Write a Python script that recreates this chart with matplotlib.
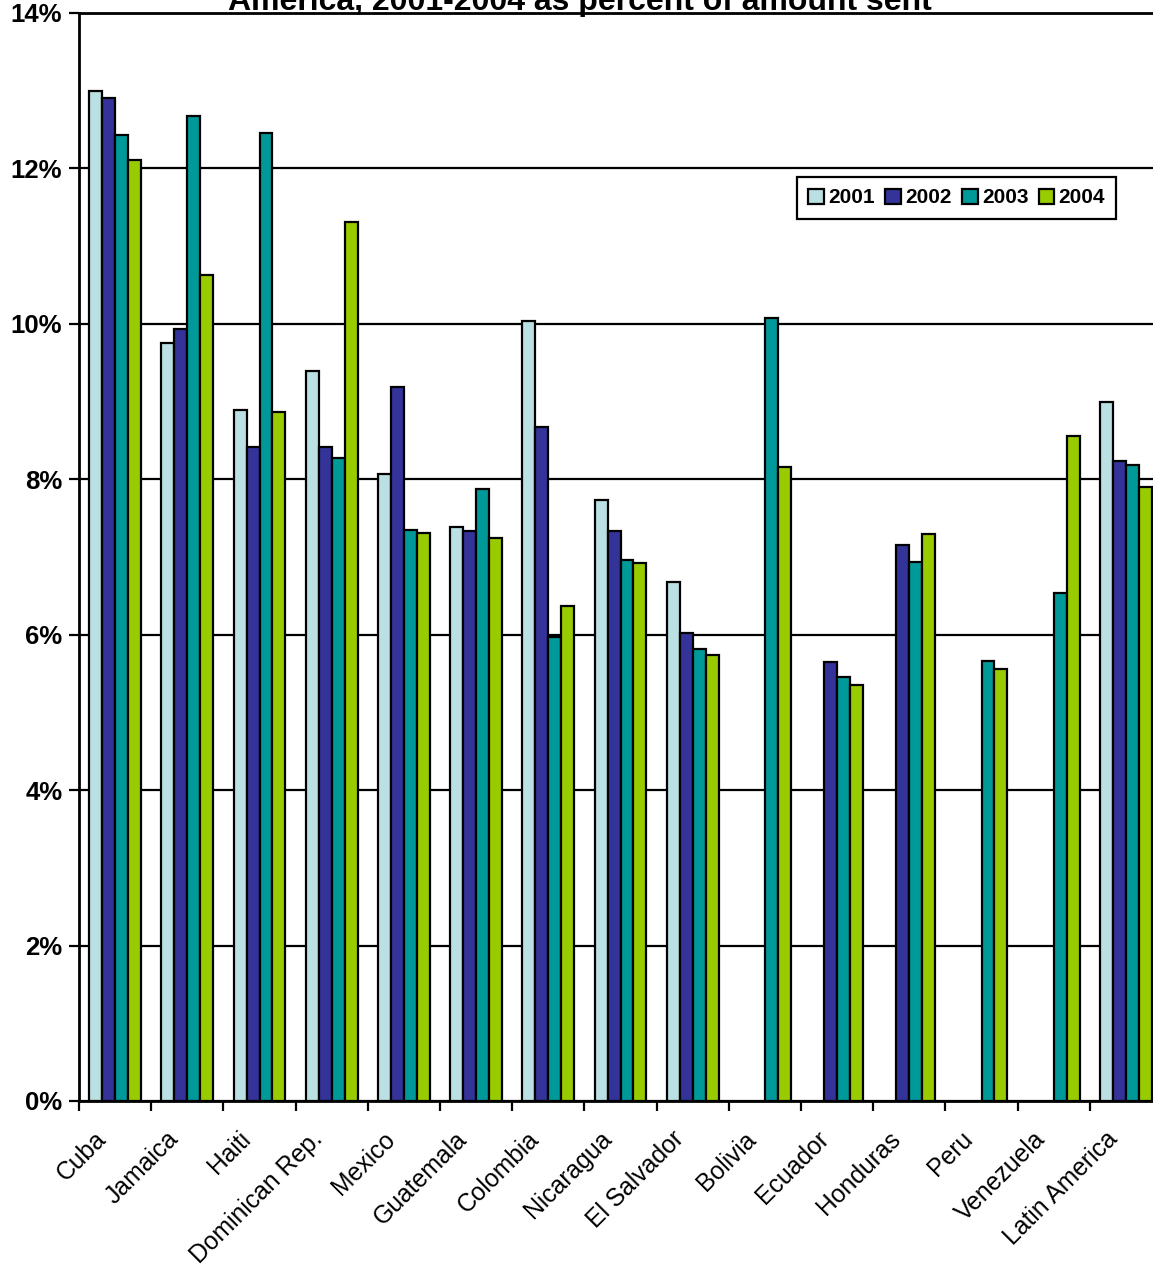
import numpy as np
import matplotlib
matplotlib.use("Agg")
import matplotlib.pyplot as plt
import matplotlib.transforms as mtransforms
from matplotlib.ticker import FixedLocator, FuncFormatter

plt.rcParams['font.family'] = ['Liberation Sans', 'DejaVu Sans']

categories = ["Cuba", "Jamaica", "Haiti", "Dominican Rep.", "Mexico", "Guatemala",
              "Colombia", "Nicaragua", "El Salvador", "Bolivia", "Ecuador",
              "Honduras", "Peru", "Venezuela", "Latin America"]
years = ["2001", "2002", "2003", "2004"]
nan = np.nan
v2001 = [13.00, 9.75, 8.89, 9.39, 8.07, 7.38, 10.04, 7.73, 6.68, nan, nan, nan, nan, nan, 8.99]
v2002 = [12.91, 9.94, 8.42, 8.42, 9.19, 7.34, 8.67, 7.34, 6.02, nan, 5.65, 7.16, nan, nan, 8.24]
v2003 = [12.43, 12.67, 12.45, 8.28, 7.35, 7.87, 5.97, 6.96, 5.82, 10.07, 5.45, 6.93, 5.66, 6.54, 8.18]
v2004 = [12.11, 10.63, 8.87, 11.31, 7.31, 7.25, 6.37, 6.92, 5.74, 8.16, 5.35, 7.29, 5.56, 8.56, 7.90]
series = [v2001, v2002, v2003, v2004]
colors = ["#BBE0E3", "#333399", "#009999", "#99CC00"]
yticks = [0, 2, 4, 6, 8, 10, 12, 14]
title = "America, 2001-2004 as percent of amount sent"

W, H = 1153, 1268
fig = plt.figure(figsize=(W / 100, H / 100), dpi=100)
ax = fig.add_axes([79 / W, 1 - 1101 / H, (1162 - 79) / W, (1101 - 13) / H])

x = np.arange(len(categories))
bw = 0.18
for i, (vals, c, yr) in enumerate(zip(series, colors, years)):
    ax.bar(x + (i - 1.5) * bw, vals, width=bw, color=c, edgecolor="black",
           linewidth=1.6, label=yr, zorder=3)

ax.set_xlim(-0.5, len(categories) - 0.5)
ax.set_ylim(0, 14)
ax.yaxis.set_major_locator(FixedLocator(yticks))
ax.yaxis.set_major_formatter(FuncFormatter(lambda v, p: f"{int(round(v))}%"))
ax.grid(axis="y", color="black", linewidth=1.6, zorder=0)
ax.set_axisbelow(True)

# category labels (rotated), placed relative to each category centre
ax.set_xticks(x)
ax.set_xticklabels([])
ax.tick_params(axis="x", which="major", length=0)
base = mtransforms.blended_transform_factory(ax.transData, ax.transAxes)
offset = mtransforms.ScaledTranslation(-21 / 100, -26 / 100, fig.dpi_scale_trans)
for xi, name in zip(x, categories):
    ax.text(xi, 0, name, transform=base + offset, rotation=45,
            rotation_mode="anchor", ha="right", va="top", fontsize=17.8,
            clip_on=False)

ax.set_xticks(np.arange(-0.5, len(categories), 1.0), minor=True)
ax.tick_params(axis="x", which="minor", length=7, width=1.6, direction="out")
ax.tick_params(axis="y", length=7, width=1.6, direction="out", pad=5, labelsize=18.5)
for lab in ax.get_yticklabels():
    lab.set_fontweight("bold")

for s in ["left", "bottom", "top"]:
    ax.spines[s].set_linewidth(2)
ax.spines["right"].set_visible(False)

fig.text(580 / W, 1 - 10 / H, title, ha="center", va="baseline",
         fontsize=23, fontweight="bold")

leg = ax.legend(loc="upper left", bbox_to_anchor=(797 / W, 1 - 177 / H),
                bbox_transform=fig.transFigure, ncol=4,
                prop={"weight": "bold", "size": 15},
                handlelength=0.75, handleheight=0.75, handletextpad=0.2,
                columnspacing=0.5, borderpad=0.55, fancybox=False,
                framealpha=1, edgecolor="black", borderaxespad=0)
leg.get_frame().set_linewidth(1.6)

fig.savefig("out.png", dpi=100)
